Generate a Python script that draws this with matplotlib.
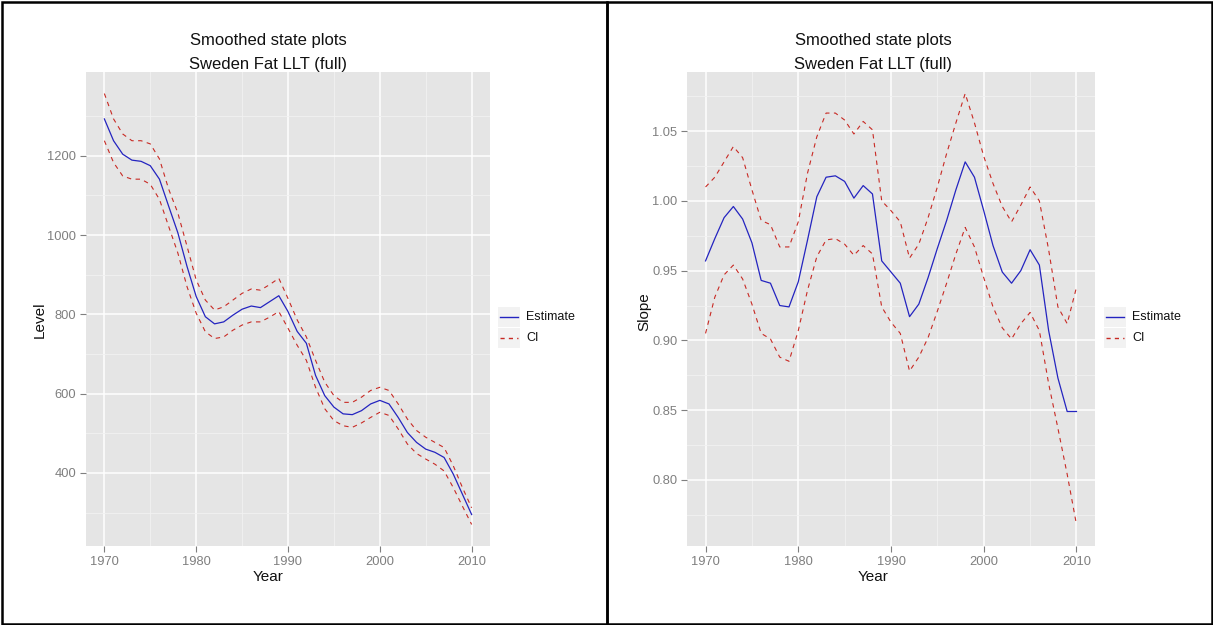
import matplotlib
matplotlib.use("Agg")
import matplotlib.pyplot as plt
from matplotlib.lines import Line2D
from matplotlib.patches import Rectangle
from matplotlib.ticker import MultipleLocator, FixedLocator

plt.rcParams['font.family'] = ['Liberation Sans', 'DejaVu Sans']

years = list(range(1970, 2011))

level_est = [1293, 1238, 1204, 1189, 1186, 1175, 1141, 1073, 1006, 921,
             845, 794, 776, 781, 798, 813, 821, 817, 832, 847,
             807, 757, 727, 646, 595, 566, 549, 547, 557, 574,
             583, 574, 540, 502, 477, 460, 452, 439, 397, 346, 295]
level_up = [1357, 1293, 1255, 1238, 1238, 1230, 1192, 1116, 1056, 972,
            887, 836, 811, 819, 836, 853, 864, 861, 875, 891,
            840, 786, 743, 684, 629, 595, 578, 578, 591, 608,
            616, 608, 574, 536, 507, 490, 477, 464, 418, 363, 312]
level_lo = [1238, 1183, 1149, 1141, 1141, 1128, 1090, 1022, 955, 870,
            803, 756, 739, 743, 760, 773, 781, 781, 793, 807,
            765, 722, 684, 616, 562, 532, 519, 515, 526, 540,
            553, 545, 511, 473, 449, 435, 422, 405, 363, 316, 270]

slope_est = [0.957, 0.973, 0.988, 0.996, 0.987, 0.970, 0.943, 0.941, 0.925, 0.924,
             0.942, 0.972, 1.003, 1.017, 1.018, 1.014, 1.002, 1.011, 1.005, 0.957,
             0.949, 0.941, 0.917, 0.926, 0.945, 0.966, 0.986, 1.008, 1.028, 1.017,
             0.993, 0.968, 0.949, 0.941, 0.950, 0.965, 0.954, 0.907, 0.873, 0.849, 0.849]
slope_up = [1.010, 1.017, 1.028, 1.039, 1.031, 1.008, 0.986, 0.983, 0.967, 0.967,
            0.985, 1.020, 1.046, 1.063, 1.063, 1.058, 1.048, 1.057, 1.051, 1.000,
            0.993, 0.985, 0.959, 0.969, 0.988, 1.010, 1.034, 1.056, 1.077, 1.056,
            1.032, 1.0125, 0.996, 0.985, 0.997, 1.010, 1.000, 0.965, 0.924, 0.912, 0.938]
slope_lo = [0.905, 0.931, 0.947, 0.954, 0.944, 0.926, 0.905, 0.901, 0.888, 0.885,
            0.907, 0.936, 0.960, 0.972, 0.973, 0.969, 0.961, 0.968, 0.962, 0.924,
            0.913, 0.905, 0.878, 0.888, 0.902, 0.921, 0.941, 0.962, 0.981, 0.967,
            0.945, 0.924, 0.909, 0.901, 0.912, 0.920, 0.907, 0.869, 0.837, 0.804, 0.768]

title_lines = ["Smoothed state plots", "Sweden Fat LLT (full)"]
legend_labels = ["Estimate", "CI"]
x_ticks = [1970, 1980, 1990, 2000, 2010]
level_ticks = [400, 600, 800, 1000, 1200]
level_minor = [300, 500, 700, 900, 1100, 1300]
slope_ticks = [0.80, 0.85, 0.90, 0.95, 1.00, 1.05]
slope_minor = [0.775, 0.825, 0.875, 0.925, 0.975, 1.025, 1.075]

W, H = 1213, 625
fig = plt.figure(figsize=(W / 100, H / 100), dpi=100)
fig.patch.set_facecolor("white")

def fx(x):
    return x / W

def fy(y):
    return 1 - y / H

EST_COLOR = "#2424c0"
CI_COLOR = "#c82a24"
TICK_GRAY = "#7f7f7f"

def make_panel(x0, x1, est, up, lo, ylabel, ylabel_x, ylabel_y, yt, ym, fmt, center_x, legend_x):
    ax = fig.add_axes([fx(x0), fy(546), fx(x1) - fx(x0), fy(72) - fy(546)])
    ax.set_facecolor("#e5e5e5")
    for s in ax.spines.values():
        s.set_visible(False)
    ax.plot(years, up, color=CI_COLOR, lw=0.8, linestyle=(0, (4, 4)), zorder=3)
    ax.plot(years, lo, color=CI_COLOR, lw=0.8, linestyle=(0, (4, 4)), zorder=3)
    ax.plot(years, est, color=EST_COLOR, lw=0.9, zorder=4)
    ax.margins(x=0.05, y=0.05)
    ax.set_xticks(x_ticks)
    ax.xaxis.set_minor_locator(MultipleLocator(5))
    ax.yaxis.set_major_locator(FixedLocator(yt))
    ax.yaxis.set_minor_locator(FixedLocator(ym))
    ax.yaxis.set_major_formatter(matplotlib.ticker.FormatStrFormatter(fmt))
    ax.grid(which="major", color="white", lw=1.1, zorder=1)
    ax.grid(which="minor", color="#f2f2f2", lw=0.6, zorder=1)
    ax.set_axisbelow(True)
    ax.tick_params(which="major", length=4, width=0.8, color=TICK_GRAY,
                   labelcolor=TICK_GRAY, labelsize=9.3, pad=3)
    ax.tick_params(which="minor", length=0)
    fig.text(fx(center_x), fy(40), title_lines[0], ha="center", va="center", fontsize=12, color="#111111")
    fig.text(fx(center_x), fy(65), title_lines[1], ha="center", va="center", fontsize=12, color="#111111")
    fig.text(fx(center_x), fy(577), "Year", ha="center", va="center", fontsize=11, color="#111111")
    fig.text(fx(ylabel_x), fy(ylabel_y), ylabel, ha="center", va="center", rotation=90, fontsize=11, color="#111111")
    for i, (lab, col, ls) in enumerate(zip(legend_labels, [EST_COLOR, CI_COLOR], ["-", (0, (3, 3))])):
        ytop = 307 + i * 21
        fig.add_artist(Rectangle((fx(legend_x - 2), fy(ytop + 20)), fx(22), 20 / H,
                                 transform=fig.transFigure, facecolor="#f2f2f2", edgecolor="none"))
        fig.add_artist(Line2D([fx(legend_x), fx(legend_x + 18)], [fy(ytop + 10)] * 2,
                              transform=fig.transFigure, color=col, lw=1.0, linestyle=ls))
        fig.text(fx(legend_x + 26), fy(ytop + 10), lab, ha="left", va="center", fontsize=9, color="#111111")
    return ax

make_panel(86, 490, level_est, level_up, level_lo, "Level", 40, 320, level_ticks, level_minor, "%d", 268, 500)
make_panel(687, 1095, slope_est, slope_up, slope_lo, "Slope", 644, 312, slope_ticks, slope_minor, "%.2f", 873, 1106)

for (a, b) in [(1.5, 607), (607, 1211.5)]:
    fig.add_artist(Rectangle((fx(a), fy(623.5)), fx(b - a), (623.5 - 1.5) / H,
                             transform=fig.transFigure, facecolor="none", edgecolor="black", lw=1.8))

fig.savefig("out.png", dpi=100)
